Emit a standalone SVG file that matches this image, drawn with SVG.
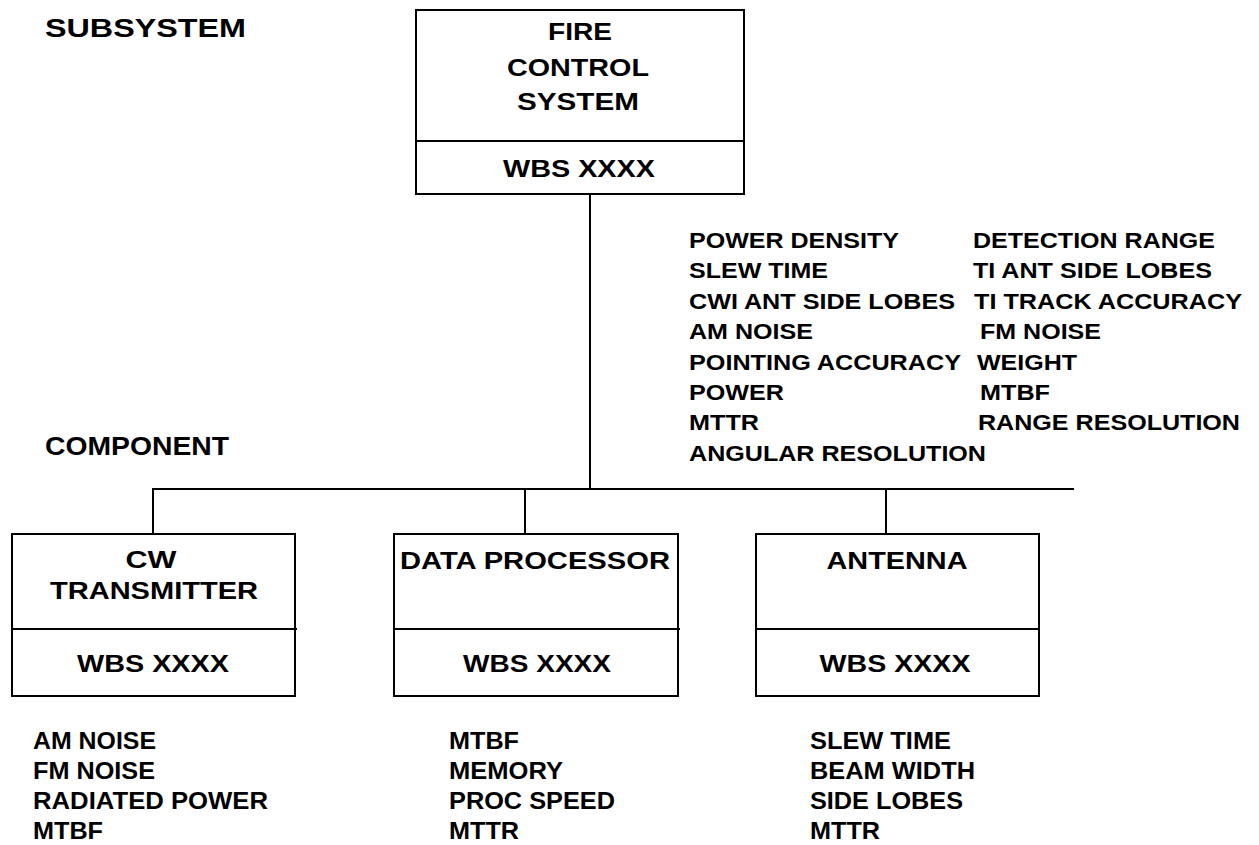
<svg xmlns="http://www.w3.org/2000/svg" width="1259" height="845" viewBox="0 0 1259 845">
<style>
text { font-family: "Liberation Sans", Arial, sans-serif; font-weight: bold; fill: #000; }
.lvl { font-size: 25px; }
.ttl { font-size: 23px; text-anchor: middle; }
.wbs { font-size: 24px; text-anchor: middle; }
.attr { font-size: 22px; }
.lst { font-size: 23px; }
.box { fill: #fff; stroke: #000; stroke-width: 2; }
.ln { stroke: #000; stroke-width: 2; fill: none; }
</style>
<rect width="1259" height="845" fill="#fff"/>
<g id="levels">
<text class="lvl" x="45" y="37" textLength="201" lengthAdjust="spacingAndGlyphs">SUBSYSTEM</text>
<text class="lvl" x="45" y="455" textLength="184" lengthAdjust="spacingAndGlyphs">COMPONENT</text>
</g>
<g id="connectors">
<line class="ln" x1="590" y1="194" x2="590" y2="489"/>
<line class="ln" x1="152" y1="489" x2="1074" y2="489"/>
<line class="ln" x1="153" y1="489" x2="153" y2="534"/>
<line class="ln" x1="525" y1="489" x2="525" y2="534"/>
<line class="ln" x1="886" y1="489" x2="886" y2="534"/>
</g>
<g id="fire-control-system">
<rect class="box" x="416" y="10" width="328" height="184"/>
<line class="ln" x1="416" y1="141" x2="744" y2="141"/>
<text class="ttl" x="580" y="40" textLength="64" lengthAdjust="spacingAndGlyphs">FIRE</text>
<text class="ttl" x="578" y="76" textLength="142" lengthAdjust="spacingAndGlyphs">CONTROL</text>
<text class="ttl" x="578" y="110" textLength="122" lengthAdjust="spacingAndGlyphs">SYSTEM</text>
<text class="wbs" x="579" y="177" textLength="152" lengthAdjust="spacingAndGlyphs">WBS XXXX</text>
</g>
<g id="fcs-attributes">
<text class="attr" x="689" y="248" textLength="210" lengthAdjust="spacingAndGlyphs">POWER DENSITY</text>
<text class="attr" x="689" y="278.4" textLength="139" lengthAdjust="spacingAndGlyphs">SLEW TIME</text>
<text class="attr" x="689" y="308.8" textLength="266" lengthAdjust="spacingAndGlyphs">CWI ANT SIDE LOBES</text>
<text class="attr" x="689" y="339.2" textLength="124" lengthAdjust="spacingAndGlyphs">AM NOISE</text>
<text class="attr" x="689" y="369.6" textLength="272" lengthAdjust="spacingAndGlyphs">POINTING ACCURACY</text>
<text class="attr" x="689" y="400" textLength="95" lengthAdjust="spacingAndGlyphs">POWER</text>
<text class="attr" x="689" y="430.4" textLength="70" lengthAdjust="spacingAndGlyphs">MTTR</text>
<text class="attr" x="689" y="460.8" textLength="297" lengthAdjust="spacingAndGlyphs">ANGULAR RESOLUTION</text>
<text class="attr" x="973" y="248" textLength="242" lengthAdjust="spacingAndGlyphs">DETECTION RANGE</text>
<text class="attr" x="973" y="278.4" textLength="239" lengthAdjust="spacingAndGlyphs">TI ANT SIDE LOBES</text>
<text class="attr" x="974" y="308.8" textLength="268" lengthAdjust="spacingAndGlyphs">TI TRACK ACCURACY</text>
<text class="attr" x="980" y="339.2" textLength="121" lengthAdjust="spacingAndGlyphs">FM NOISE</text>
<text class="attr" x="977" y="369.6" textLength="100" lengthAdjust="spacingAndGlyphs">WEIGHT</text>
<text class="attr" x="980" y="400" textLength="70" lengthAdjust="spacingAndGlyphs">MTBF</text>
<text class="attr" x="978" y="430.4" textLength="262" lengthAdjust="spacingAndGlyphs">RANGE RESOLUTION</text>
</g>
<g id="cw-transmitter">
<rect class="box" x="12" y="534" width="283" height="162"/>
<line class="ln" x1="12" y1="629" x2="297" y2="629"/>
<text class="ttl" x="151" y="568" textLength="51" lengthAdjust="spacingAndGlyphs">CW</text>
<text class="ttl" x="154" y="599" textLength="208" lengthAdjust="spacingAndGlyphs">TRANSMITTER</text>
<text class="wbs" x="153" y="672" textLength="152" lengthAdjust="spacingAndGlyphs">WBS XXXX</text>
</g>
<g id="data-processor">
<rect class="box" x="394" y="534" width="284" height="162"/>
<line class="ln" x1="394" y1="629" x2="680" y2="629"/>
<text class="ttl" x="535" y="569" textLength="270" lengthAdjust="spacingAndGlyphs">DATA PROCESSOR</text>
<text class="wbs" x="537" y="672" textLength="148" lengthAdjust="spacingAndGlyphs">WBS XXXX</text>
</g>
<g id="antenna">
<rect class="box" x="756" y="534" width="283" height="162"/>
<line class="ln" x1="756" y1="629" x2="1039" y2="629"/>
<text class="ttl" x="897" y="569" textLength="141" lengthAdjust="spacingAndGlyphs">ANTENNA</text>
<text class="wbs" x="895" y="672" textLength="151" lengthAdjust="spacingAndGlyphs">WBS XXXX</text>
</g>
<g id="cw-attributes">
<text class="lst" x="33" y="749" textLength="123" lengthAdjust="spacingAndGlyphs">AM NOISE</text>
<text class="lst" x="33" y="779" textLength="122" lengthAdjust="spacingAndGlyphs">FM NOISE</text>
<text class="lst" x="33" y="809" textLength="235" lengthAdjust="spacingAndGlyphs">RADIATED POWER</text>
<text class="lst" x="33" y="839" textLength="70" lengthAdjust="spacingAndGlyphs">MTBF</text>
</g>
<g id="dp-attributes">
<text class="lst" x="449" y="749" textLength="70" lengthAdjust="spacingAndGlyphs">MTBF</text>
<text class="lst" x="449" y="779" textLength="114" lengthAdjust="spacingAndGlyphs">MEMORY</text>
<text class="lst" x="449" y="809" textLength="166" lengthAdjust="spacingAndGlyphs">PROC SPEED</text>
<text class="lst" x="449" y="839" textLength="70" lengthAdjust="spacingAndGlyphs">MTTR</text>
</g>
<g id="antenna-attributes">
<text class="lst" x="810" y="749" textLength="141" lengthAdjust="spacingAndGlyphs">SLEW TIME</text>
<text class="lst" x="810" y="779" textLength="165" lengthAdjust="spacingAndGlyphs">BEAM WIDTH</text>
<text class="lst" x="810" y="809" textLength="153" lengthAdjust="spacingAndGlyphs">SIDE LOBES</text>
<text class="lst" x="810" y="839" textLength="70" lengthAdjust="spacingAndGlyphs">MTTR</text>
</g>
</svg>
